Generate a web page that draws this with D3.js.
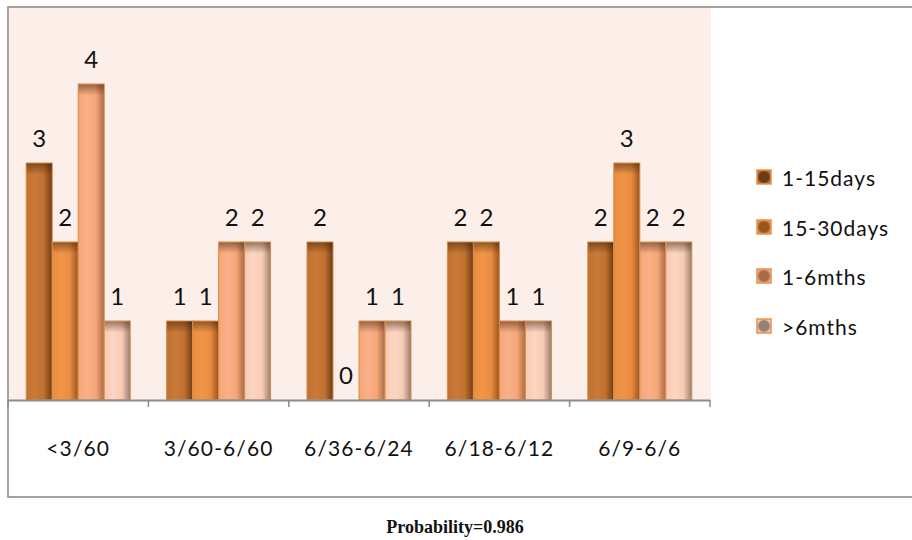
<!DOCTYPE html>
<html><head><meta charset="utf-8">
<script src="https://cdn.jsdelivr.net/npm/d3@7"></script>
<style>html,body{margin:0;padding:0;background:#fff;}svg{display:block;}</style>
</head><body>
<svg id="chart" width="912" height="540"></svg>
<script>
const categories = ["<3/60", "3/60-6/60", "6/36-6/24", "6/18-6/12", "6/9-6/6"];
const seriesNames = ["1-15days", "15-30days", "1-6mths", ">6mths"];
const s1_15days = [3, 1, 2, 2, 2];
const s15_30days = [2, 1, 0, 2, 3];
const s1_6mths = [4, 2, 1, 1, 2];
const sOver6mths = [1, 2, 1, 1, 2];
const seriesValues = [s1_15days, s15_30days, s1_6mths, sOver6mths];
const yDomain = [0, 5];
const footnote = "Probability=0.986";

const base = ["#C0702F", "#E98C3F", "#F6A676", "#F9CAB3"];
const light = ["#C97A38", "#F09548", "#F8B087", "#FBD6C2"];
const dark = ["#6E3D16", "#9A5420", "#A86B49", "#958075"];

const svg = d3.select("#chart");
const defs = svg.append("defs");
base.forEach((c, i) => {
  const g = defs.append("linearGradient").attr("id", "g" + i).attr("x1", 0).attr("x2", 1).attr("y1", 0).attr("y2", 0);
  g.append("stop").attr("offset", "0%").attr("stop-color", base[i]);
  g.append("stop").attr("offset", "35%").attr("stop-color", light[i]);
  g.append("stop").attr("offset", "68%").attr("stop-color", base[i]);
  g.append("stop").attr("offset", "100%").attr("stop-color", dark[i]);
  const r = defs.append("radialGradient").attr("id", "lg" + i);
  r.append("stop").attr("offset", "0%").attr("stop-color", dark[i]);
  r.append("stop").attr("offset", "70%").attr("stop-color", dark[i]);
  r.append("stop").attr("offset", "100%").attr("stop-color", base[i]);
});
const tg = defs.append("linearGradient").attr("id", "topShade").attr("x1", 0).attr("x2", 0).attr("y1", 0).attr("y2", 1);
tg.append("stop").attr("offset", "0%").attr("stop-color", "#3a1e08").attr("stop-opacity", 0.5);
tg.append("stop").attr("offset", "100%").attr("stop-color", "#3a1e08").attr("stop-opacity", 0);

const pLeft = 8, pRight = 710, pTop = 5, pBottom = 400;
const font = "Lato, 'Open Sans', sans-serif";

// outer border
svg.append("rect").attr("x", 8).attr("y", 7).attr("width", 930).attr("height", 490)
  .attr("fill", "#fff").attr("stroke", "#8c8c8c").attr("stroke-width", 1.6);
// plot background
svg.append("rect").attr("x", 9).attr("y", 8).attr("width", pRight - 9 + 1).attr("height", pBottom - 8)
  .attr("fill", "#FCEEE9");

const x0 = d3.scaleBand().domain(categories).range([pLeft, pRight]).padding(0);
const inset = (x0.bandwidth() - 104) / 2;
const x1 = d3.scaleBand().domain(seriesNames).range([inset, x0.bandwidth() - inset]).padding(0);
const y = d3.scaleLinear().domain(yDomain).range([pBottom, pTop]);

const data = [];
categories.forEach((c, ci) => seriesNames.forEach((s, si) => data.push({c, s, si, v: seriesValues[si][ci]})));

const bars = svg.append("g");
data.forEach(d => {
  const bx = x0(d.c) + x1(d.s), bw = x1.bandwidth();
  const by = y(d.v), bh = y(0) - y(d.v);
  if (bh > 0) {
    bars.append("rect").attr("x", bx).attr("y", by).attr("width", bw).attr("height", bh)
      .attr("fill", `url(#g${d.si})`).attr("stroke", "#D98A45").attr("stroke-width", 1);
    bars.append("rect").attr("x", bx + 0.5).attr("y", by + 0.5).attr("width", bw - 1).attr("height", Math.min(11, bh))
      .attr("fill", "url(#topShade)");
  }
  svg.append("text").attr("x", bx + bw / 2).attr("y", by - 16)
    .attr("text-anchor", "middle").attr("font-family", font)
    .attr("font-size", 24).attr("fill", "#111").text(d.v);
});

// x axis
const xAxis = d3.axisBottom(x0).tickSize(0).tickFormat("");
const ax = svg.append("g").attr("transform", `translate(0,${pBottom})`).call(xAxis);
ax.select(".domain").attr("stroke", "#8c8c8c").attr("stroke-width", 2);
const bounds = categories.map(c => x0(c)).concat([pRight]);
svg.append("g").selectAll("line").data(bounds).join("line")
  .attr("x1", d => d).attr("x2", d => d).attr("y1", pBottom).attr("y2", pBottom + 7)
  .attr("stroke", "#8c8c8c").attr("stroke-width", 1.5);
svg.append("g").selectAll("text").data(categories).join("text")
  .attr("x", d => x0(d) + x0.bandwidth() / 2).attr("y", 456)
  .attr("text-anchor", "middle").attr("font-family", font)
  .attr("font-size", 21).attr("letter-spacing", 1.1).attr("fill", "#111").text(d => d);

// legend
const legY = [177, 227, 276, 326];
const leg = svg.append("g");
seriesNames.forEach((s, i) => {
  leg.append("rect").attr("x", 757).attr("y", legY[i] - 7).attr("width", 14).attr("height", 14)
    .attr("fill", `url(#lg${i})`).attr("stroke", "#E0944F").attr("stroke-width", 1.5);
  leg.append("text").attr("x", 782).attr("y", legY[i]).attr("dominant-baseline", "central")
    .attr("font-family", font).attr("font-size", 21).attr("letter-spacing", 1)
    .attr("fill", "#111").text(s);
});

// footnote
svg.append("text").attr("x", 455).attr("y", 533).attr("text-anchor", "middle")
  .attr("font-family", "'Liberation Serif', 'Times New Roman', serif").attr("font-weight", "bold")
  .attr("font-size", 18).attr("fill", "#111").text(footnote);
</script>
</body></html>
